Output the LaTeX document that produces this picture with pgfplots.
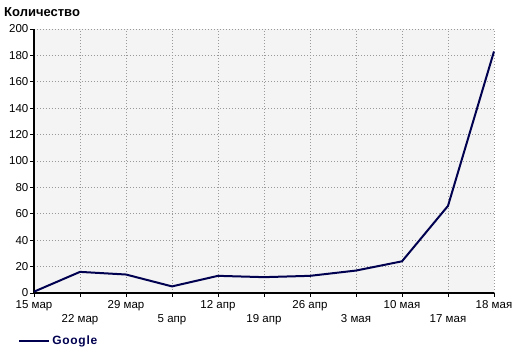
\documentclass[border=0pt]{standalone}
\usepackage{pgfplots}
\pgfplotsset{compat=1.18}
\usepackage{fontspec}
\setmainfont{Liberation Sans}
\definecolor{navy}{RGB}{0,0,80}
\definecolor{bg}{RGB}{244,244,244}
\newcommand{\low}[1]{\rule{0pt}{8.5pt}\\#1}
\begin{document}
\begin{tikzpicture}[x=1pt,y=1pt]
\useasboundingbox (0,0) rectangle (520,353);
\begin{axis}[
  at={(34pt,60pt)}, anchor=south west,
  scale only axis, width=460pt, height=264pt,
  xmin=0, xmax=10, ymin=0, ymax=200,
  xtick={0,...,10}, ytick={0,20,...,200},
  xticklabels={15 мар,\low{22 мар},29 мар,\low{5 апр},12 апр,\low{19 апр},26 апр,\low{3 мая},10 мая,\low{17 мая},18 мая},
  grid=major,
  grid style={gray!80, line width=0.6pt, dash pattern=on 0.8pt off 2.2pt},
  axis background/.style={fill=bg},
  axis x line*=bottom, axis y line*=left,
  axis line style={line width=2.5pt,-},
  tick style={black, line width=0.8pt},
  major tick length=4pt, tick align=outside,
  /pgf/number format/assume math mode=true,
  yticklabel style={font=\fontsize{11.5}{13}\selectfont, inner sep=1.5pt},
  xticklabel style={font=\fontsize{11.5}{13.5}\selectfont, align=center, inner sep=3pt},
  legend style={at={(-0.041,-0.182)}, anchor=west, draw=none, fill=none,
    font=\bfseries\fontsize{12}{14}\selectfont\addfontfeature{LetterSpace=6}, text=navy},
  legend image code/.code={\draw[#1] (0pt,0pt) -- (30pt,0pt);},
  clip=false,
]
\addplot[navy, line width=2pt] coordinates {
  (0,1) (1,16) (2,14) (3,5) (4,13) (5,12) (6,13) (7,17) (8,24) (9,66) (10,183)
};
\addlegendentry{Google}
\end{axis}
\node[anchor=west, font=\bfseries\fontsize{13}{15}\selectfont, inner sep=0pt] at (4,341) {Количество};
\end{tikzpicture}
\end{document}
